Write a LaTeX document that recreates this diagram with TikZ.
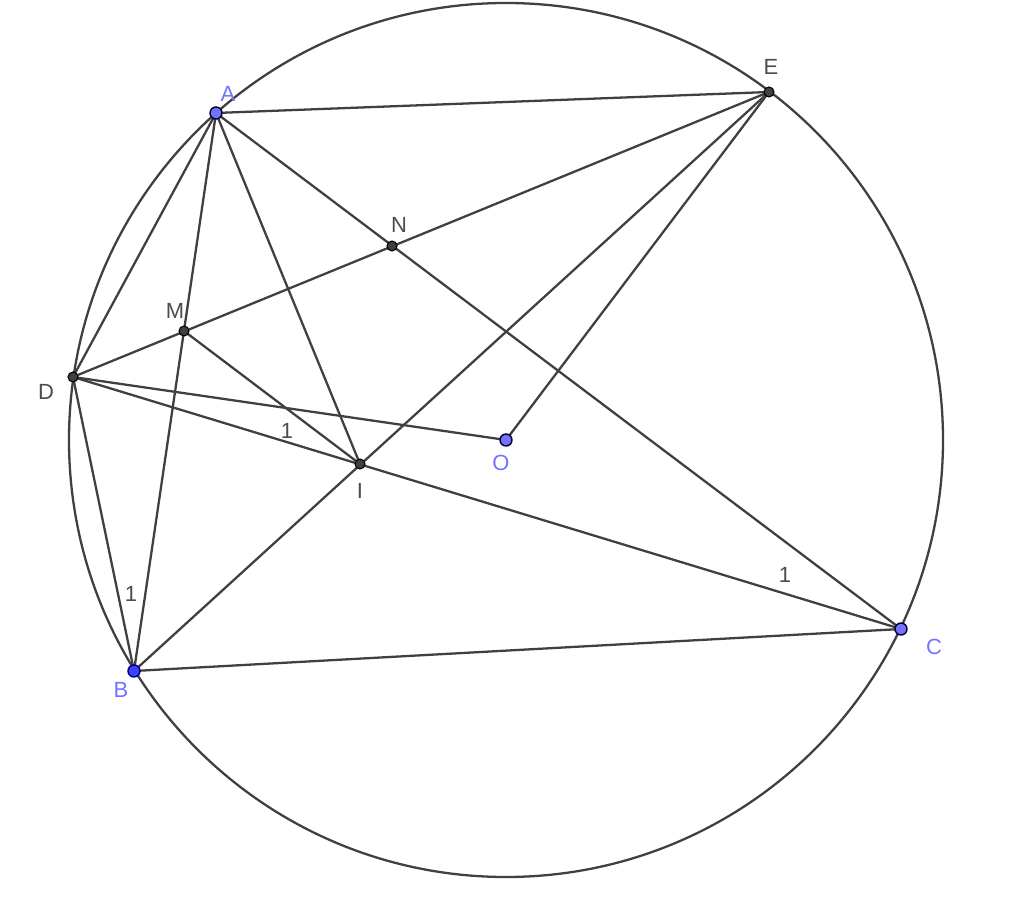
\documentclass[tikz,border=0pt]{standalone}
\usepackage{fontspec}
\setmainfont{Liberation Sans}
\begin{document}
\begin{tikzpicture}[x=0.02cm,y=-0.02cm,
  seg/.style={draw=black!75,line width=1.3pt},
  freept/.style={circle,fill=blue!55!white,draw=black!80!blue,line width=0.8pt,inner sep=0pt,minimum size=12*0.02cm},
  bpt/.style={circle,fill=blue!75,draw=blue!50!black,line width=0.8pt,inner sep=0pt,minimum size=12*0.02cm},
  dpt/.style={circle,fill=black!75,draw=black,line width=0.6pt,inner sep=0pt,minimum size=10*0.02cm},
  blab/.style={text=blue!55!white,font=\fontsize{12.5}{14}\selectfont,inner sep=0pt},
  klab/.style={text=black!70,font=\fontsize{12.5}{14}\selectfont,inner sep=0pt}]
\useasboundingbox (0,0) rectangle (1024,911);
\coordinate (Oc) at (506,440);
\draw[black!75,line width=1.3pt] (Oc) circle[radius=437*0.02cm];
\coordinate (A) at (216,113);
\coordinate (E) at (769,92);
\coordinate (N) at (392,246);
\coordinate (M) at (184,331);
\coordinate (D) at (73,377);
\coordinate (O) at (506,440);
\coordinate (I) at (360,464);
\coordinate (B) at (134,671);
\coordinate (C) at (901,629);
\draw[seg] (A) -- (E);
\draw[seg] (A) -- (D);
\draw[seg] (A) -- (B);
\draw[seg] (A) -- (I);
\draw[seg] (A) -- (C);
\draw[seg] (E) -- (D);
\draw[seg] (E) -- (B);
\draw[seg] (E) -- (O);
\draw[seg] (D) -- (O);
\draw[seg] (D) -- (C);
\draw[seg] (D) -- (B);
\draw[seg] (M) -- (I);
\draw[seg] (B) -- (C);
\node[freept] (pA) at (A) {};
\node[freept] (pC) at (C) {};
\node[freept] (pO) at (O) {};
\node[bpt] (pB) at (B) {};
\node[dpt] (pE) at (E) {};
\node[dpt] (pN) at (N) {};
\node[dpt] (pM) at (M) {};
\node[dpt] (pD) at (D) {};
\node[dpt] (pI) at (I) {};
\node[blab] (lA) at (228,94) {A};
\node[klab] (lE) at (771,67) {E};
\node[klab] (lN) at (399,225) {N};
\node[klab] (lM) at (175,311) {M};
\node[klab] (lD) at (46,392) {D};
\node[blab] (lO) at (501,463) {O};
\node[klab] (lI) at (360,491) {I};
\node[blab] (lB) at (121,690) {B};
\node[blab] (lC) at (934,647) {C};
\node[klab] (l1) at (287,431) {1};
\node[klab] (l2) at (785,575) {1};
\node[klab] (l3) at (131,594) {1};
\end{tikzpicture}
\end{document}
